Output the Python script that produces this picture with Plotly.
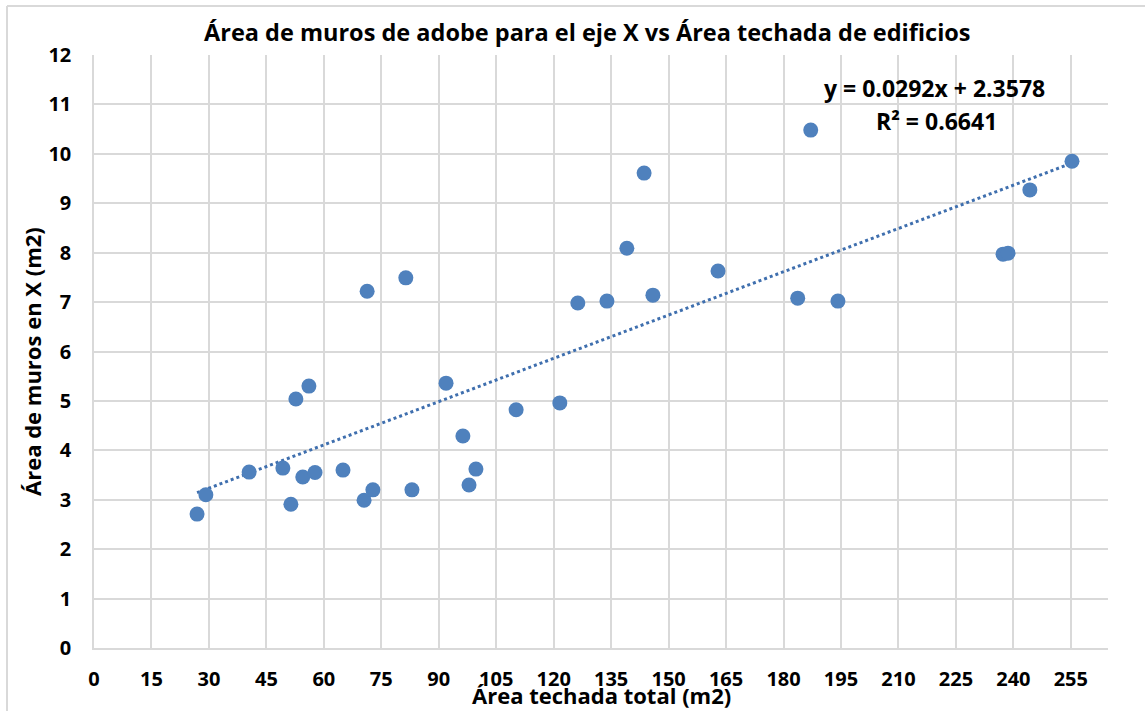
import plotly.graph_objects as go

# Data
area_techada = [26.9, 29.2, 40.5, 49.3, 51.4, 52.7, 54.5, 56.1, 57.7, 65.0,
                70.5, 71.3, 72.8, 81.4, 83.0, 91.9, 96.3, 97.9, 99.7, 110.2,
                121.6, 126.3, 133.9, 139.1, 143.6, 145.9, 162.9, 183.7, 187.1,
                194.2, 237.3, 238.6, 244.3, 255.3]
area_muros_x = [2.71, 3.10, 3.56, 3.64, 2.91, 5.04, 3.46, 5.30, 3.55, 3.60,
                2.99, 7.22, 3.20, 7.49, 3.20, 5.36, 4.29, 3.30, 3.62, 4.82,
                4.96, 6.98, 7.02, 8.09, 9.61, 7.14, 7.63, 7.08, 10.48,
                7.02, 7.97, 7.99, 9.27, 9.85]

slope = 0.0292
intercept = 2.3578
r2 = 0.6641

x_ticks = list(range(0, 256, 15))
y_ticks = list(range(0, 13, 1))

x_fit = [min(area_techada), max(area_techada)]
y_fit = [slope * v + intercept for v in x_fit]

FONT = "Open Sans"
grid = "#d9d9d9"

W, H = 1145, 711
L, R, T, B = 94, 37, 55, 63
PW, PH = W - L - R, H - T - B

def px_x(p):
    return (p - L) / PW

def px_y(p):
    return (H - B - p) / PH

fig = go.Figure()
fig.add_trace(go.Scatter(
    x=x_fit, y=y_fit, mode="lines",
    line=dict(color="#3f6fae", width=3, dash="dot"),
    hoverinfo="skip", showlegend=False))
fig.add_trace(go.Scatter(
    x=area_techada, y=area_muros_x, mode="markers",
    marker=dict(color="#4f81bd", size=15, line=dict(width=0)),
    showlegend=False))

tickfont = dict(size=20, family=FONT, color="black", weight="bold")

fig.update_layout(
    width=W, height=H,
    margin=dict(l=L, r=R, t=T, b=B, autoexpand=False),
    paper_bgcolor="white", plot_bgcolor="white",
    font=dict(family=FONT, color="black"),
    xaxis=dict(range=[0, 264.7], tickvals=x_ticks, ticktext=[str(v) for v in x_ticks],
               showgrid=True, gridcolor=grid, gridwidth=1.5,
               showline=True, linecolor=grid, linewidth=1.5,
               zeroline=False, ticks="outside", ticklen=12, tickcolor="rgba(0,0,0,0)",
               tickfont=tickfont, automargin=False),
    yaxis=dict(range=[0, 12], tickvals=y_ticks, ticktext=[str(v) for v in y_ticks],
               showgrid=True, gridcolor=grid, gridwidth=1.5,
               showline=True, linecolor=grid, linewidth=1.5,
               zeroline=False, ticks="outside", ticklen=17, tickcolor="rgba(0,0,0,0)",
               tickfont=tickfont, automargin=False),
    annotations=[
        dict(text="<b>Área de muros de adobe para el eje X vs Área techada de edificios</b>",
             x=px_x(587), y=px_y(32), xref="paper", yref="paper", showarrow=False,
             xanchor="center", yanchor="middle",
             font=dict(size=23.5, family=FONT, color="black")),
        dict(text="<b>Área techada total (m2)</b>",
             x=px_x(601), y=px_y(695), xref="paper", yref="paper", showarrow=False,
             xanchor="center", yanchor="middle",
             font=dict(size=22, family=FONT, color="black")),
        dict(text="<b>Área de muros en X (m2)</b>", textangle=-90,
             x=px_x(32), y=px_y(362), xref="paper", yref="paper", showarrow=False,
             xanchor="center", yanchor="middle",
             font=dict(size=22, family=FONT, color="black")),
        dict(text=f"<b>y = {slope}x + {intercept}</b>",
             x=px_x(934), y=px_y(88), xref="paper", yref="paper", showarrow=False,
             xanchor="center", yanchor="middle",
             font=dict(size=23, family=FONT, color="black")),
        dict(text=f"<b>R² = {r2}</b>",
             x=px_x(936), y=px_y(121), xref="paper", yref="paper", showarrow=False,
             xanchor="center", yanchor="middle",
             font=dict(size=23, family=FONT, color="black")),
    ],
    shapes=[
        dict(type="line", xref="paper", yref="paper", x0=px_x(7), x1=px_x(7),
             y0=px_y(720), y1=px_y(6), line=dict(color="#d9d9d9", width=2)),
        dict(type="line", xref="paper", yref="paper", x0=px_x(7), x1=px_x(1150),
             y0=px_y(6), y1=px_y(6), line=dict(color="#d9d9d9", width=2)),
    ],
)

fig.write_html("out.html", config={"displayModeBar": False},
               post_script="document.body.style.margin='0px';")
